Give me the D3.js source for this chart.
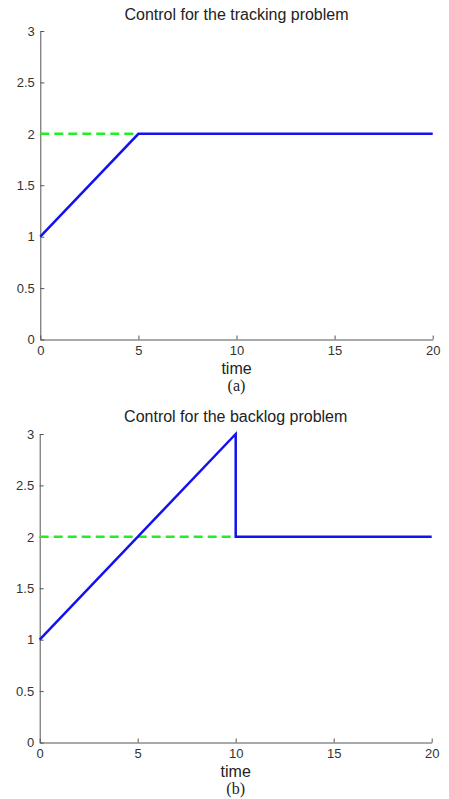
<!DOCTYPE html>
<html><head><meta charset="utf-8">
<script src="https://cdn.jsdelivr.net/npm/d3@7"></script>
<style>body{margin:0;background:#fff}</style>
</head><body>
<script>
const xTicks = [0, 5, 10, 15, 20];
const yTicks = [0, 0.5, 1, 1.5, 2, 2.5, 3];
const yTickLabels = ["0", "0.5", "1", "1.5", "2", "2.5", "3"];
const titles = ["Control for the tracking problem", "Control for the backlog problem"];
const captions = ["(a)", "(b)"];
const xLabel = "time";
// control series (time, value)
const controlA_t = [0, 5, 20];
const controlA_v = [1, 2, 2];
const controlB_t = [0, 10, 10, 20];
const controlB_v = [1, 3, 2, 2];
// dashed reference level
const refA_t = [0, 5];
const refA_v = [2, 2];
const refB_t = [0, 10];
const refB_v = [2, 2];

const W = 449, H = 799;
const svg = d3.select("body").append("svg").attr("width", W).attr("height", H);

const panels = [
  {title: titles[0], cap: captions[0], ct: controlA_t, cv: controlA_v, rt: refA_t, rv: refA_v,
   x0: 40.3, x1: 432.7, yTop: 31, yBot: 339.5, titleY: 19.5, timeY: 374, capY: 390.5},
  {title: titles[1], cap: captions[1], ct: controlB_t, cv: controlB_v, rt: refB_t, rv: refB_v,
   x0: 39.7, x1: 431.7, yTop: 434, yBot: 742.5, titleY: 421.5, timeY: 777, capY: 793.5}
];

panels.forEach(p => {
  const x = d3.scaleLinear().domain([0, 20]).range([p.x0, p.x1]);
  const y = d3.scaleLinear().domain([0, 3]).range([p.yBot, p.yTop]);
  const g = svg.append("g");

  const xa = g.append("g").attr("transform", `translate(0,${p.yBot})`)
    .call(d3.axisBottom(x).tickValues(xTicks).tickSizeInner(-4).tickSizeOuter(0).tickPadding(6.5));
  const ya = g.append("g").attr("transform", `translate(${p.x0},0)`)
    .call(d3.axisLeft(y).tickValues(yTicks).tickFormat((d, i) => yTickLabels[i]).tickSizeInner(-4).tickSizeOuter(0).tickPadding(5.5));
  [xa, ya].forEach(a => {
    a.select(".domain").attr("stroke", "#555").attr("stroke-width", 1);
    a.selectAll(".tick line").attr("stroke", "#555");
    a.selectAll("text").attr("font-family", "Liberation Sans, Arial, sans-serif")
      .attr("font-size", 13).attr("fill", "#333");
  });

  const line = d3.line().x(d => x(d[0])).y(d => y(d[1]));
  g.append("path").datum(p.rt.map((t, i) => [t, p.rv[i]]))
    .attr("d", line).attr("fill", "none").attr("stroke", "#22ee22")
    .attr("stroke-width", 2.5).attr("stroke-dasharray", "9,5");
  g.append("path").datum(p.ct.map((t, i) => [t, p.cv[i]]))
    .attr("d", line).attr("fill", "none").attr("stroke", "#1212ee")
    .attr("stroke-width", 2.5).attr("stroke-linejoin", "miter");

  const cx = (p.x0 + p.x1) / 2;
  g.append("text").attr("x", cx).attr("y", p.titleY).attr("text-anchor", "middle")
    .attr("font-family", "Liberation Sans, Arial, sans-serif").attr("font-size", 16).attr("fill", "#222")
    .text(p.title);
  g.append("text").attr("x", cx).attr("y", p.timeY).attr("text-anchor", "middle")
    .attr("font-family", "Liberation Sans, Arial, sans-serif").attr("font-size", 16).attr("fill", "#222")
    .text(xLabel);
  g.append("text").attr("x", cx).attr("y", p.capY).attr("text-anchor", "middle")
    .attr("font-family", "Liberation Serif, Times New Roman, serif").attr("font-size", 16).attr("fill", "#222")
    .text(p.cap);
});
</script>
</body></html>
